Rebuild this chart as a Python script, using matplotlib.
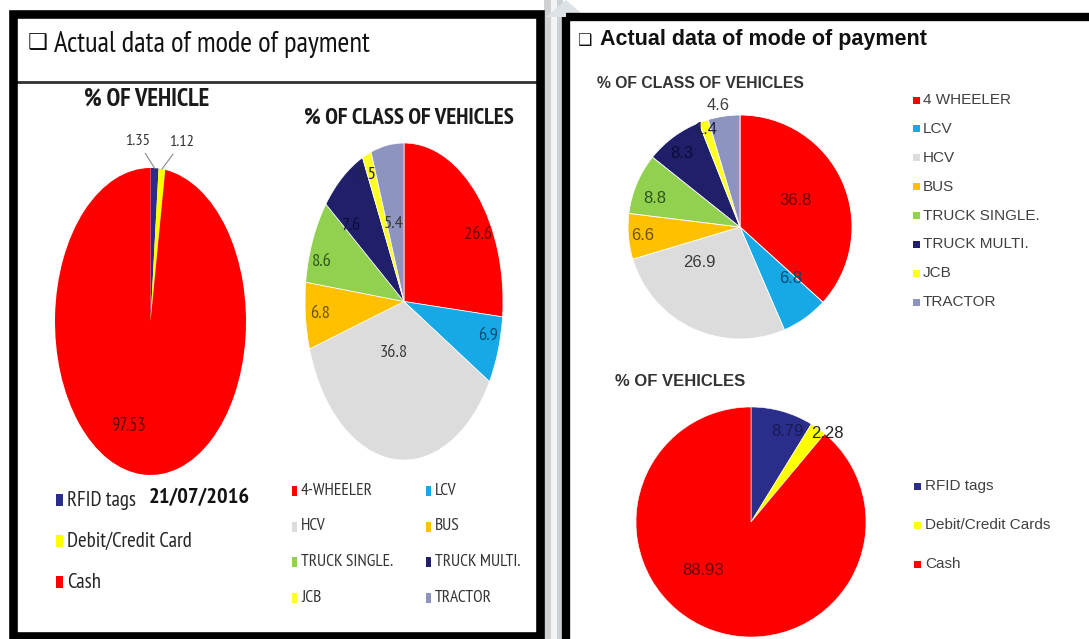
import os
import matplotlib
matplotlib.use("Agg")
import matplotlib.pyplot as plt
from matplotlib.patches import Rectangle, Polygon
from matplotlib import font_manager as fm
import numpy as np

W, H = 1089, 639

# ---------------- data ----------------
left_pay_labels = ["RFID tags", "Debit/Credit Card", "Cash"]
left_pay_values = [1.35, 1.12, 97.53]

left_class_labels = ["4-WHEELER", "LCV", "HCV", "BUS", "TRUCK SINGLE.", "TRUCK MULTI.", "JCB", "TRACTOR"]
left_class_values = [26.6, 6.9, 36.8, 6.8, 8.6, 7.6, 1.5, 5.4]

right_class_labels = ["4 WHEELER", "LCV", "HCV", "BUS", "TRUCK SINGLE.", "TRUCK MULTI.", "JCB", "TRACTOR"]
right_class_values = [36.8, 6.8, 26.9, 6.6, 8.8, 8.3, 1.4, 4.6]

right_pay_labels = ["RFID tags", "Debit/Credit Cards", "Cash"]
right_pay_values = [8.79, 2.28, 88.93]

date_text = "21/07/2016"
slide_title = "Actual data of mode of payment"

# ---------------- style ----------------
pay_colors = ["#2A2D8A", "#FFFF00", "#FF0000"]
class_colors = ["#FF0000", "#16A9E6", "#DCDCDC", "#FFC000", "#92D050", "#20206A", "#FFFF22", "#8E94C0"]
class_label_colors = ["#6a0000", "#004a70", "#3a3a3a", "#6a5000", "#2f5518", "#0c0c3a", "#202040", "#3a3a3a"]

SANS = ["Liberation Sans", "DejaVu Sans"]
BOX = ["DejaVu Sans"]


def find_narrow(bold):
    keys = ["sansnarrow", "sans-narrow", "sanscondensed", "sans-condensed", "condensed", "narrow"]
    for key in keys:
        for f in fm.fontManager.ttflist:
            fn = os.path.basename(f.fname).lower()
            if key not in fn or "serif" in fn or "mono" in fn:
                continue
            if "italic" in fn or "oblique" in fn:
                continue
            isbold = "bold" in fn
            if "semibold" in fn or "light" in fn or "extra" in fn or "medium" in fn or "thin" in fn or "black" in fn:
                continue
            if isbold == bold:
                return f.fname
    return None


_nr = find_narrow(False)
_nb = find_narrow(True)


def narrow_props(bold=False):
    path = _nb if bold else _nr
    if path:
        return fm.FontProperties(fname=path)
    return fm.FontProperties(family="Liberation Sans", weight="bold" if bold else "normal")


fig = plt.figure(figsize=(W / 100, H / 100), dpi=100)
fig.patch.set_facecolor("white")
renderer = fig.canvas.get_renderer()

bg = fig.add_axes([0, 0, 1, 1], zorder=0)
bg.set_xlim(0, W)
bg.set_ylim(H, 0)
bg.axis("off")


def fit_size(s, target_w, bold=False, base=20.0):
    fp = narrow_props(bold)
    fp.set_size(base)
    t = fig.text(0, 0, s, fontproperties=fp)
    w = t.get_window_extent(renderer).width
    t.remove()
    return base * target_w / w


def ntext(ax, x, y, s, size, bold=False, **kw):
    fp = narrow_props(bold)
    fp.set_size(size)
    return ax.text(x, y, s, fontproperties=fp, **kw)


def pie_axes(x0, y0, x1, y1):
    return fig.add_axes([x0 / W, 1 - y1 / H, (x1 - x0) / W, (y1 - y0) / H], zorder=2)


def finish(ax):
    ax.set_xlim(-1, 1)
    ax.set_ylim(-1, 1)
    ax.set_aspect("auto")
    ax.axis("off")


def mid_xy(w, r, dang=0.0):
    th = np.deg2rad((w.theta1 + w.theta2) / 2 + dang)
    return r * np.cos(th), r * np.sin(th)


# ---------------- separator strip between slides ----------------
bg.add_patch(Rectangle((544, 0), 19, H, color="#cfd2d4", lw=0, zorder=0))
bg.add_patch(Rectangle((551, 0), 6, H, color="#f4f4f4", lw=0, zorder=0))
bg.add_patch(Polygon([[546, 17], [566, 0], [586, 17]], closed=True, color="#dde2e6", lw=0, zorder=0))

# ---------------- slide borders ----------------
bg.add_patch(Rectangle((13, 14), 527, 622, fill=False, lw=6.2, edgecolor="black", zorder=5))
bg.add_patch(Rectangle((566, 17), 560, 660, fill=False, lw=6.0, edgecolor="black", zorder=5))
bg.plot([17, 537], [82, 82], color="#303030", lw=2.0, zorder=3)

# ---------------- titles ----------------
bg.text(28, 43, "\u2751", fontsize=16, family=BOX, ha="left", va="center", color="#111111")
ntext(bg, 54, 44, slide_title, fit_size(slide_title, 316), ha="left", va="center", color="#111111")
bg.text(577, 40, "\u2751", fontsize=11.5, family=BOX, ha="left", va="center", color="#111111")
bg.text(600, 40, slide_title, fontsize=15.5, family=SANS, weight="bold", ha="left", va="center", color="#111111")

# ---------------- left slide: % OF VEHICLE ----------------
t = "% OF VEHICLE"
ntext(bg, 147, 99, t, fit_size(t, 125, True), True, ha="center", va="center", color="#1a1a1a")
ax1 = pie_axes(55, 168, 246, 475)
w1, _ = ax1.pie(left_pay_values, colors=pay_colors, startangle=90, counterclock=False,
                wedgeprops=dict(linewidth=0))
finish(ax1)
lab_size1 = fit_size("1.35", 25)
offsets1 = [(-17, 27), (20, 27)]
for i in range(2):
    x, y = mid_xy(w1[i], 1.0)
    fp = narrow_props(False)
    fp.set_size(lab_size1)
    ax1.annotate(f"{left_pay_values[i]:.2f}", xy=(x, y), xytext=offsets1[i], textcoords="offset pixels",
                 fontproperties=fp, ha="center", va="center", color="#333333",
                 arrowprops=dict(arrowstyle="-", color="#888888", lw=0.8, shrinkA=2, shrinkB=0))
x, y = mid_xy(w1[2], 0.72, -14)
ntext(ax1, x, y, f"{left_pay_values[2]:.2f}", fit_size("97.53", 35), ha="center", va="center", color="#5a0000")

# ---------------- left slide: % OF CLASS OF VEHICLES ----------------
t = "% OF CLASS OF VEHICLES"
ntext(bg, 409, 118, t, fit_size(t, 210, True), True, ha="center", va="center", color="#1a1a1a")
ax2 = pie_axes(305, 143, 503, 460)
w2, _ = ax2.pie(left_class_values, colors=class_colors, startangle=90, counterclock=False,
                wedgeprops=dict(edgecolor="white", linewidth=0.5))
finish(ax2)
radii2 = [0.86, 0.88, 0.34, 0.85, 0.87, 0.72, 0.88, 0.5]
dang2 = [-13, 4, -11, 0, 6, 10, 3, 2]
lab_size2 = fit_size("36.8", 28)
for i, w in enumerate(w2):
    x, y = mid_xy(w, radii2[i], dang2[i])
    ntext(ax2, x, y, f"{left_class_values[i]:.1f}", lab_size2, ha="center", va="center",
          color=class_label_colors[i])

# left legends
leg_size = fit_size("Debit/Credit Card", 125)
for i, lab in enumerate(left_pay_labels):
    yy = 500 + i * 41
    bg.add_patch(Rectangle((56, yy - 6), 7, 12, color=pay_colors[i], lw=0, zorder=3))
    ntext(bg, 67, yy, lab, leg_size, ha="left", va="center", color="#262626")
ntext(bg, 149, 497, date_text, fit_size(date_text, 101, True), True, ha="left", va="center", color="#111111")

col_x = [292, 426]
cls_size = fit_size("TRUCK SINGLE.", 92)
for i, lab in enumerate(left_class_labels):
    c = i % 2
    r = i // 2
    yy = 491 + r * 35.5
    bg.add_patch(Rectangle((col_x[c], yy - 5), 5, 10, color=class_colors[i], lw=0, zorder=3))
    ntext(bg, col_x[c] + 9, yy, lab, cls_size, ha="left", va="center", color="#333333")

# ---------------- right slide: % OF CLASS OF VEHICLES ----------------
bg.text(597, 84, "% OF CLASS OF VEHICLES", fontsize=11.3, family=SANS, weight="bold", ha="left", va="center",
        color="#333333")
ax3 = pie_axes(628, 115, 852, 339)
w3, _ = ax3.pie(right_class_values, colors=class_colors, startangle=90, counterclock=False,
                wedgeprops=dict(edgecolor="white", linewidth=0.6))
finish(ax3)
radii3 = [0.55, 0.64, 0.48, 0.87, 0.8, 0.84, 0.92, 1.1]
dang3 = [2, 9, -24, 0, 4, 2, 0, 2]
for i, w in enumerate(w3):
    x, y = mid_xy(w, radii3[i], dang3[i])
    ax3.text(x, y, f"{right_class_values[i]:.1f}", fontsize=12, family=SANS, ha="center", va="center",
             color=class_label_colors[i] if radii3[i] <= 1 else "#404040")

for i, lab in enumerate(right_class_labels):
    yy = 100 + i * 28.9
    bg.add_patch(Rectangle((913, yy - 3.5), 7, 7, color=class_colors[i], lw=0, zorder=3))
    bg.text(923, yy, lab, fontsize=11, family=SANS, ha="left", va="center", color="#404040")

# ---------------- right slide: % OF VEHICLES ----------------
bg.text(615, 382, "% OF VEHICLES", fontsize=12, family=SANS, weight="bold", ha="left", va="center",
        color="#333333")
ax4 = pie_axes(636, 407, 866, 637)
w4, _ = ax4.pie(right_pay_values, colors=pay_colors, startangle=90, counterclock=False,
                wedgeprops=dict(edgecolor="white", linewidth=0.4))
finish(ax4)
radii4 = [0.85, 1.02, 0.59]
dang4 = [-6, -5, -25]
for i, w in enumerate(w4):
    x, y = mid_xy(w, radii4[i], dang4[i])
    ax4.text(x, y, f"{right_pay_values[i]:.2f}", fontsize=12, family=SANS, ha="center", va="center",
             color=["#1a1a50", "#222222", "#6a0000"][i])

for i, lab in enumerate(right_pay_labels):
    yy = 486 + i * 39
    bg.add_patch(Rectangle((914, yy - 3.5), 7, 7, color=pay_colors[i], lw=0, zorder=3))
    bg.text(925, yy, lab, fontsize=11, family=SANS, ha="left", va="center", color="#404040")

fig.savefig("out.png", dpi=100, facecolor="white")
